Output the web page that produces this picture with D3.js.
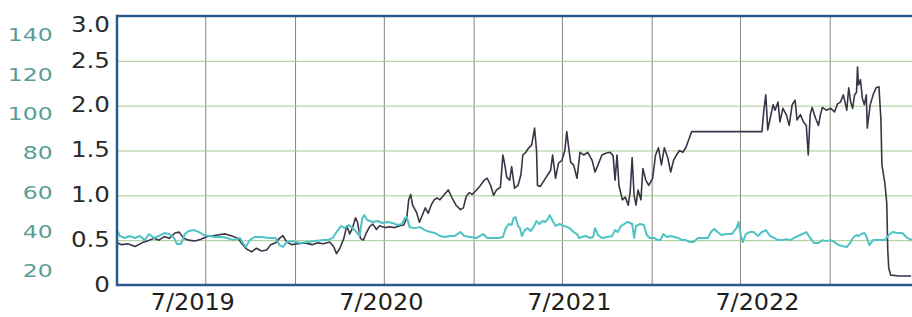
<!DOCTYPE html>
<html>
<head>
<meta charset="utf-8">
<script src="https://cdn.jsdelivr.net/npm/d3@7"></script>
<style>
  html, body { margin: 0; padding: 0; background: #fff; overflow: hidden; }
  svg { display: block; font-family: "DejaVu Sans", Verdana, sans-serif; }
</style>
</head>
<body>
<svg id="chart" width="912" height="317"></svg>
<script>
// dark line (left scale 0-3)
const darkDates = [
  "2019-01-01","2019-01-11","2019-01-23","2019-02-07","2019-02-21","2019-03-04","2019-03-18","2019-03-28","2019-04-08","2019-04-18",
  "2019-04-30","2019-05-08","2019-05-18","2019-05-28","2019-06-10","2019-06-22","2019-07-05","2019-07-17","2019-07-29","2019-08-11",
  "2019-08-23","2019-09-06","2019-09-14","2019-09-24","2019-10-04","2019-10-14","2019-10-24","2019-11-04","2019-11-12","2019-11-22",
  "2019-11-30","2019-12-07","2019-12-15","2019-12-25","2020-01-07","2020-01-21","2020-02-05","2020-02-17","2020-02-28","2020-03-12",
  "2020-03-20","2020-03-26","2020-04-02","2020-04-10","2020-04-16","2020-04-22","2020-04-28","2020-05-04","2020-05-08","2020-05-14",
  "2020-05-20","2020-05-26","2020-06-02","2020-06-08","2020-06-16","2020-06-22","2020-07-03","2020-07-13","2020-07-23","2020-08-03",
  "2020-08-11","2020-08-17","2020-08-21","2020-08-25","2020-08-29","2020-09-06","2020-09-12","2020-09-18","2020-09-24","2020-09-30",
  "2020-10-06","2020-10-12","2020-10-18","2020-10-24","2020-11-02","2020-11-10","2020-11-18","2020-11-26","2020-12-05","2020-12-11",
  "2020-12-17","2020-12-23","2020-12-29","2021-01-07","2021-01-15","2021-01-23","2021-01-29","2021-02-05","2021-02-11","2021-02-17",
  "2021-02-25","2021-03-02","2021-03-06","2021-03-10","2021-03-16","2021-03-20","2021-03-26","2021-04-02","2021-04-08","2021-04-12",
  "2021-04-18","2021-04-24","2021-04-30","2021-05-06","2021-05-10","2021-05-12","2021-05-18","2021-05-26","2021-06-02","2021-06-08",
  "2021-06-12","2021-06-18","2021-06-24","2021-07-01","2021-07-07","2021-07-11","2021-07-15","2021-07-19","2021-07-25","2021-08-01",
  "2021-08-07","2021-08-15","2021-08-23","2021-09-01","2021-09-07","2021-09-13","2021-09-21","2021-09-29","2021-10-08","2021-10-14",
  "2021-10-18","2021-10-22","2021-10-26","2021-11-02","2021-11-08","2021-11-14","2021-11-18","2021-11-22","2021-11-26","2021-11-30",
  "2021-12-04","2021-12-10","2021-12-14","2021-12-20","2021-12-26","2022-01-03","2022-01-09","2022-01-15","2022-01-21","2022-01-27",
  "2022-02-03","2022-02-09","2022-02-15","2022-02-21","2022-02-27","2022-03-06","2022-03-12","2022-03-18","2022-03-24","2022-08-15",
  "2022-08-19","2022-08-23","2022-08-27","2022-09-01","2022-09-07","2022-09-11","2022-09-17","2022-09-21","2022-09-27","2022-10-04",
  "2022-10-10","2022-10-16","2022-10-22","2022-10-26","2022-11-02","2022-11-08","2022-11-14","2022-11-18","2022-11-22","2022-11-26",
  "2022-12-03","2022-12-09","2022-12-13","2022-12-17","2022-12-25","2023-01-03","2023-01-11","2023-01-17","2023-01-23","2023-01-29",
  "2023-02-05","2023-02-09","2023-02-13","2023-02-17","2023-02-21","2023-02-25","2023-02-27","2023-03-01","2023-03-05","2023-03-09",
  "2023-03-13","2023-03-17","2023-03-19","2023-03-25","2023-03-31","2023-04-06","2023-04-12","2023-04-16","2023-04-18","2023-04-24",
  "2023-04-28","2023-04-30","2023-05-02","2023-05-06","2023-05-24","2023-06-17"
];
const darkValues = [
  0.47,0.45,0.46,0.43,0.47,0.49,0.52,0.50,0.54,0.52,
  0.58,0.59,0.52,0.50,0.49,0.51,0.54,0.55,0.56,0.57,
  0.55,0.52,0.46,0.40,0.37,0.41,0.38,0.39,0.45,0.47,
  0.52,0.55,0.48,0.45,0.46,0.47,0.45,0.47,0.46,0.48,
  0.43,0.35,0.41,0.52,0.66,0.57,0.64,0.75,0.70,0.52,
  0.50,0.58,0.65,0.68,0.62,0.66,0.64,0.65,0.64,0.66,
  0.67,0.75,0.95,1.01,0.89,0.81,0.70,0.78,0.86,0.80,
  0.89,0.95,0.97,0.95,1.01,1.06,0.97,0.89,0.84,0.86,
  0.99,1.03,1.01,1.06,1.11,1.17,1.19,1.11,1.00,1.06,
  1.09,1.45,1.34,1.20,1.17,1.32,1.08,1.11,1.23,1.45,
  1.48,1.53,1.56,1.75,1.50,1.11,1.10,1.17,1.23,1.28,
  1.45,1.19,1.36,1.39,1.50,1.71,1.53,1.37,1.34,1.19,
  1.48,1.45,1.48,1.39,1.26,1.34,1.45,1.47,1.48,1.44,
  1.17,1.45,1.11,0.95,0.98,0.89,1.04,1.42,1.00,0.89,
  1.06,0.95,1.30,1.17,1.11,1.19,1.45,1.53,1.34,1.53,
  1.42,1.26,1.39,1.45,1.50,1.48,1.53,1.62,1.71,1.71,
  1.95,2.12,1.73,1.86,2.01,1.95,2.04,1.82,1.97,1.90,
  1.78,2.01,2.06,1.84,1.90,1.82,1.78,1.45,1.90,1.98,
  1.86,1.78,1.90,1.98,1.95,1.97,1.93,2.02,2.04,2.12,
  1.95,2.20,2.04,1.97,2.12,2.15,2.43,2.23,2.29,2.08,
  2.01,2.12,1.75,2.01,2.12,2.20,2.21,1.84,1.34,1.14,
  0.91,0.39,0.19,0.11,0.10,0.10
];

// teal line (teal scale 20-140)
const tealDates = [
  "2019-01-01","2019-01-07","2019-01-17","2019-01-27","2019-02-07","2019-02-17","2019-02-27","2019-03-08","2019-03-18","2019-03-28",
  "2019-04-08","2019-04-18","2019-04-28","2019-05-04","2019-05-12","2019-05-20","2019-05-28","2019-06-08","2019-06-18","2019-06-28",
  "2019-07-09","2019-07-21","2019-08-03","2019-08-15","2019-08-27","2019-09-10","2019-09-16","2019-09-22","2019-09-30","2019-10-10",
  "2019-10-24","2019-11-10","2019-11-22","2019-11-30","2019-12-07","2019-12-15","2019-12-27","2020-01-11","2020-01-27","2020-02-11",
  "2020-02-25","2020-03-08","2020-03-18","2020-03-26","2020-04-04","2020-04-12","2020-04-20","2020-04-28","2020-05-06","2020-05-12",
  "2020-05-18","2020-05-22","2020-05-28","2020-06-08","2020-06-18","2020-06-28","2020-07-09","2020-07-19","2020-07-29","2020-08-07",
  "2020-08-13","2020-08-17","2020-08-23","2020-09-03","2020-09-13","2020-09-23","2020-10-04","2020-10-14","2020-10-24","2020-11-03",
  "2020-11-13","2020-11-23","2020-12-05","2020-12-13","2020-12-25","2021-01-07","2021-01-21","2021-01-29","2021-02-09","2021-02-21",
  "2021-03-02","2021-03-08","2021-03-14","2021-03-20","2021-03-24","2021-03-28","2021-04-02","2021-04-06","2021-04-10","2021-04-16",
  "2021-04-22","2021-04-28","2021-05-04","2021-05-10","2021-05-16","2021-05-22","2021-05-28","2021-06-02","2021-06-06","2021-06-12",
  "2021-06-18","2021-06-26","2021-07-05","2021-07-13","2021-07-19","2021-07-25","2021-08-01","2021-08-05","2021-08-11","2021-08-19",
  "2021-08-27","2021-09-03","2021-09-07","2021-09-13","2021-09-21","2021-10-02","2021-10-12","2021-10-18","2021-10-24","2021-10-30",
  "2021-11-06","2021-11-12","2021-11-18","2021-11-22","2021-11-26","2021-11-30","2021-12-08","2021-12-16","2021-12-22","2021-12-28",
  "2022-01-07","2022-01-13","2022-01-19","2022-01-25","2022-02-01","2022-02-09","2022-02-17","2022-02-25","2022-03-04","2022-03-12",
  "2022-03-20","2022-03-28","2022-04-06","2022-04-16","2022-04-26","2022-05-04","2022-05-10","2022-05-16","2022-05-24","2022-06-04",
  "2022-06-14","2022-06-24","2022-06-28","2022-07-03","2022-07-07","2022-07-13","2022-07-21","2022-07-29","2022-08-07","2022-08-15",
  "2022-08-23","2022-09-01","2022-09-09","2022-09-17","2022-09-25","2022-10-04","2022-10-12","2022-10-20","2022-10-28","2022-11-06",
  "2022-11-14","2022-11-22","2022-11-30","2022-12-09","2022-12-17","2022-12-25","2023-01-03","2023-01-11","2023-01-19","2023-01-27",
  "2023-02-05","2023-02-13","2023-02-19","2023-02-25","2023-03-01","2023-03-07","2023-03-13","2023-03-17","2023-03-23","2023-03-31",
  "2023-04-08","2023-04-16","2023-04-24","2023-05-02","2023-05-10","2023-05-20","2023-05-30","2023-06-09","2023-06-19"
];
const tealValues = [
  40.8,37.8,36.8,37.8,36.8,37.8,35.7,38.8,36.8,37.8,
  39.3,38.8,36.8,33.7,33.7,38.8,40.3,40.8,39.8,38.3,
  37.8,37.3,37.3,36.8,35.7,36.8,34.2,32.2,35.7,37.3,
  37.3,36.8,36.8,33.2,32.2,34.7,35.2,34.2,34.7,35.2,
  35.7,35.7,36.8,39.8,42.9,41.8,43.4,41.8,39.8,37.8,
  46.9,48.4,45.9,44.9,45.4,44.4,44.9,44.4,43.4,43.9,
  46.9,47.4,42.3,41.8,42.3,40.8,39.8,39.3,37.8,37.3,
  37.8,37.8,39.8,37.8,37.3,36.8,38.8,36.8,36.8,36.8,
  37.3,41.8,43.9,43.4,46.9,47.4,42.9,41.8,37.8,40.8,
  41.8,40.3,42.3,45.4,43.9,45.4,44.9,46.4,48.4,45.4,
  42.9,43.9,42.9,42.3,41.3,39.8,38.8,36.8,37.3,37.8,
  36.8,37.3,41.8,38.3,36.8,37.3,37.8,40.8,39.8,42.9,
  43.9,44.9,44.4,43.9,36.8,42.9,43.9,43.4,38.3,36.8,
  36.8,35.7,35.7,38.8,37.3,37.8,37.3,36.8,35.7,35.7,
  34.7,34.7,36.8,36.8,36.8,40.3,41.3,39.8,38.3,38.8,
  38.8,41.8,44.9,37.8,34.7,38.8,39.8,39.8,37.8,39.8,
  40.8,37.8,36.8,35.7,35.7,36.2,35.7,36.8,37.8,38.8,
  39.8,36.8,34.2,34.2,35.7,35.2,35.7,34.7,33.2,32.7,
  32.2,34.7,37.3,38.3,37.8,38.8,39.3,37.8,33.2,35.7,
  35.7,35.7,35.7,38.3,39.8,39.3,39.3,36.8,35.7
];

const darkTicks = [0, 0.5, 1.0, 1.5, 2.0, 2.5, 3.0];
const tealTicks = [20, 40, 60, 80, 100, 120, 140];
const labelDates = ["2019-07-01", "2020-07-01", "2021-07-01", "2022-07-01"];
const gridDates = ["2019-07-01","2020-01-01","2020-07-01","2021-01-01","2021-07-01",
                   "2022-01-01","2022-07-01","2023-01-01"];

const parse = d3.timeParse("%Y-%m-%d");
const plotLeft = 117, plotTop = 16, plotBottom = 285, plotRight = 918; // right edge runs off the page

const svg = d3.select("#chart");

const x = d3.scaleTime()
  .domain([parse("2019-01-01"), parse("2023-07-01")])
  .range([plotLeft, plotRight]);
// in the print the date labels sit a little wider apart than the grid
const xLabel = x.copy().range([99, 945]);
const yDark = d3.scaleLinear().domain([0, 3]).range([plotBottom, plotTop]);
const yTeal = d3.scaleLinear().domain([20, 140]).range([271, 35]);

// grid
svg.append("g")
  .attr("transform", `translate(0,${plotBottom})`)
  .call(d3.axisBottom(x).tickValues(gridDates.map(parse)).tickSize(-(plotBottom - plotTop)).tickFormat(""))
  .call(g => g.select(".domain").remove())
  .call(g => g.selectAll("line").attr("stroke", "#85857c").attr("stroke-width", 1));

svg.append("g")
  .attr("transform", `translate(${plotLeft},0)`)
  .call(d3.axisLeft(yDark).tickValues([0.5, 1.0, 1.5, 2.0, 2.5]).tickSize(-(plotRight - plotLeft)).tickFormat(""))
  .call(g => g.select(".domain").remove())
  .call(g => g.selectAll("line").attr("stroke", "#a6cc92").attr("stroke-width", 1));

svg.append("clipPath").attr("id", "plot-clip")
  .append("rect").attr("x", plotLeft).attr("y", plotTop)
  .attr("width", plotRight - plotLeft).attr("height", plotBottom - plotTop);

const plot = svg.append("g").attr("clip-path", "url(#plot-clip)");

const darkData = d3.zip(darkDates.map(parse), darkValues);
const tealData = d3.zip(tealDates.map(parse), tealValues);

plot.append("path")
  .datum(darkData)
  .attr("fill", "none")
  .attr("stroke", "#3a3447")
  .attr("stroke-width", 1.6)
  .attr("stroke-linejoin", "round")
  .attr("d", d3.line().x(d => x(d[0])).y(d => yDark(d[1])));

plot.append("path")
  .datum(tealData)
  .attr("fill", "none")
  .attr("stroke", "#4fc3c4")
  .attr("stroke-width", 2)
  .attr("stroke-linejoin", "round")
  .attr("d", d3.line().x(d => x(d[0])).y(d => yTeal(d[1])));

// frame: left, top, bottom
const frame = svg.append("g").attr("stroke", "#2c5a8c").attr("stroke-width", 2.5);
frame.append("line").attr("x1", plotLeft).attr("x2", 912).attr("y1", plotTop).attr("y2", plotTop);
frame.append("line").attr("x1", plotLeft).attr("x2", 912).attr("y1", plotBottom).attr("y2", plotBottom);
frame.append("line").attr("x1", plotLeft).attr("x2", plotLeft).attr("y1", plotTop - 1.2).attr("y2", plotBottom + 1.2);

// left black axis
svg.append("g")
  .attr("transform", `translate(${plotLeft},0)`)
  .call(d3.axisLeft(yDark).tickValues(darkTicks).tickSize(0).tickPadding(6)
    .tickFormat(d => d === 0 ? "0" : d3.format(".1f")(d)))
  .call(g => g.select(".domain").remove())
  .call(g => g.selectAll(".tick").attr("transform", d => `translate(0,${Math.max(yDark(d), 25)})`))
  .call(g => g.selectAll("text")
    .attr("font-family", "'DejaVu Sans', Verdana, sans-serif")
    .attr("font-size", 21)
    .attr("fill", "#2a2a2a")
    .attr("transform", "scale(1.17,1)"));

// teal axis
svg.append("g")
  .attr("transform", "translate(59,0)")
  .call(d3.axisLeft(yTeal).tickValues(tealTicks).tickSize(0).tickPadding(5))
  .call(g => g.select(".domain").remove())
  .call(g => g.selectAll("text")
    .attr("font-family", "'DejaVu Sans', Verdana, sans-serif")
    .attr("font-size", 18.5)
    .attr("fill", "#5a9d97")
    .attr("transform", "scale(1.27,1)"));

// bottom date labels
svg.append("g")
  .attr("transform", `translate(0,${plotBottom})`)
  .call(d3.axisBottom(xLabel).tickValues(labelDates.map(parse)).tickSize(0).tickPadding(9)
    .tickFormat(d3.timeFormat("%-m/%Y")))
  .call(g => g.select(".domain").remove())
  .call(g => g.selectAll("text")
    .attr("font-family", "'DejaVu Sans', Verdana, sans-serif")
    .attr("font-size", 23)
    .attr("fill", "#1e1e1e")
    .attr("transform", "scale(1.04,1)"));
</script>
</body>
</html>
